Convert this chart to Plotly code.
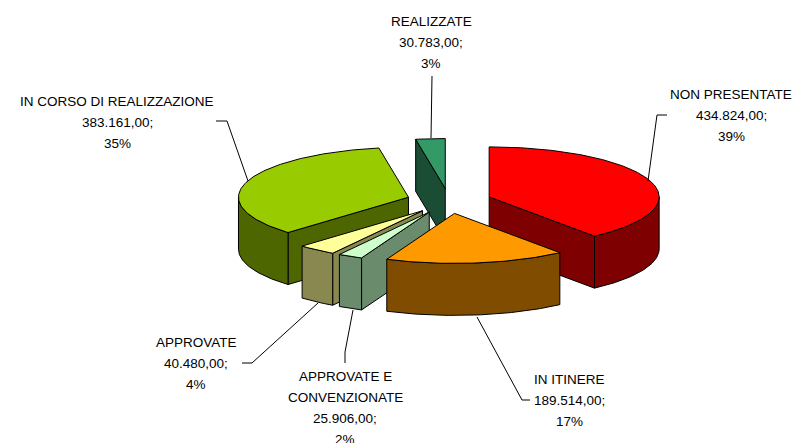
import numpy as np
import plotly.graph_objects as go

categories = ["NON PRESENTATE", "IN ITINERE", "APPROVATE E CONVENZIONATE", "APPROVATE",
              "IN CORSO DI REALIZZAZIONE", "REALIZZATE"]
values = [434824, 189514, 25906, 40480, 383161, 30783]
value_labels = ["434.824,00;", "189.514,00;", "25.906,00;", "40.480,00;", "383.161,00;", "30.783,00;"]
percent_labels = ["39%", "17%", "2%", "4%", "35%", "3%"]
top_colors = ["#FF0000", "#FF9900", "#CCFFCC", "#FFFF99", "#99CC00", "#339966"]
side_colors = ["#7F0000", "#804D00", "#6A8B6C", "#888850", "#4D6600", "#1A4D33"]

W, H = 795, 443
CX, CY, A, B, DEPTH, EXPLODE = 449.0, 201.0, 170.0, 50.0, 52.0, 0.25

fig = go.Figure()


def poly(xs, ys, color):
    xs = list(xs) + [xs[0]]
    ys = list(ys) + [ys[0]]
    fig.add_trace(go.Scatter(x=xs, y=ys, mode="lines", fill="toself", fillcolor=color,
                             line=dict(color="black", width=1), hoverinfo="skip", showlegend=False))


total = sum(values)
edges = np.concatenate([[0], np.cumsum(values)]) / total * 2 * np.pi
geom = []
for i in range(len(values)):
    t1, t2 = edges[i], edges[i + 1]
    mid = (t1 + t2) / 2
    ax = CX + EXPLODE * A * np.sin(mid)
    ay = CY - EXPLODE * B * np.cos(mid)
    geom.append((t1, t2, ax, ay))


def rim(ax, ay, t1, t2):
    t = np.linspace(t1, t2, max(int((t2 - t1) * 60), 2))
    return ax + A * np.sin(t), ay - B * np.cos(t)


for i in [5, 4, 0, 3, 2, 1]:
    t1, t2, ax, ay = geom[i]
    side, top = side_colors[i], top_colors[i]
    # straight cut faces that look towards the viewer
    if np.pi < t1 < 2 * np.pi:
        rx, ry = ax + A * np.sin(t1), ay - B * np.cos(t1)
        poly([ax, rx, rx, ax], [ay, ry, ry + DEPTH, ay + DEPTH], side)
    if 0 < t2 < np.pi:
        rx, ry = ax + A * np.sin(t2), ay - B * np.cos(t2)
        poly([ax, rx, rx, ax], [ay, ry, ry + DEPTH, ay + DEPTH], side)
    # outer curved wall, front half only
    lo, hi = max(t1, np.pi / 2), min(t2, 3 * np.pi / 2)
    if lo < hi:
        xr, yr = rim(ax, ay, lo, hi)
        poly(list(xr) + list(xr[::-1]), list(yr) + list((yr + DEPTH)[::-1]), side)
    # top face
    xr, yr = rim(ax, ay, t1, t2)
    poly([ax] + list(xr), [ay] + list(yr), top)

# leader lines
leaders = [
    ([667, 657, 648], [115, 115, 181]),
    ([530, 522, 477], [400, 400, 317]),
    ([345, 345, 353], [363, 352, 310]),
    ([242, 252, 318], [363, 363, 303]),
    ([216, 227, 248], [121, 121, 181]),
    ([432, 431], [76, 138]),
]
for lx, ly in leaders:
    fig.add_trace(go.Scatter(x=lx, y=ly, mode="lines", line=dict(color="black", width=1),
                             hoverinfo="skip", showlegend=False))

# data labels, one annotation per line for the wide line pitch
name_lines = [["NON PRESENTATE"], ["IN ITINERE"], ["APPROVATE E", "CONVENZIONATE"], ["APPROVATE"],
              ["IN CORSO DI REALIZZAZIONE"], ["REALIZZATE"]]
label_x = [731, 569, 345, 196, 117, 431]
label_y = [94, 379, 376, 342, 101, 21]
PITCH = 21
for i in range(len(values)):
    lines = name_lines[i] + [value_labels[i], percent_labels[i]]
    for j, s in enumerate(lines):
        fig.add_annotation(x=label_x[i], y=label_y[i] + j * PITCH, text=s, showarrow=False,
                           xanchor="center", yanchor="middle", xref="x", yref="y",
                           font=dict(family="Liberation Sans", size=13.5, color="black"))

fig.update_layout(width=W, height=H, margin=dict(l=0, r=0, t=0, b=0),
                  paper_bgcolor="white", plot_bgcolor="white", showlegend=False,
                  xaxis=dict(range=[0, W], visible=False, fixedrange=True),
                  yaxis=dict(range=[H, 0], visible=False, fixedrange=True))
fig.write_html("out.html", config={"displayModeBar": False},
               post_script="document.body.style.margin='0';document.body.style.overflow='hidden';")
